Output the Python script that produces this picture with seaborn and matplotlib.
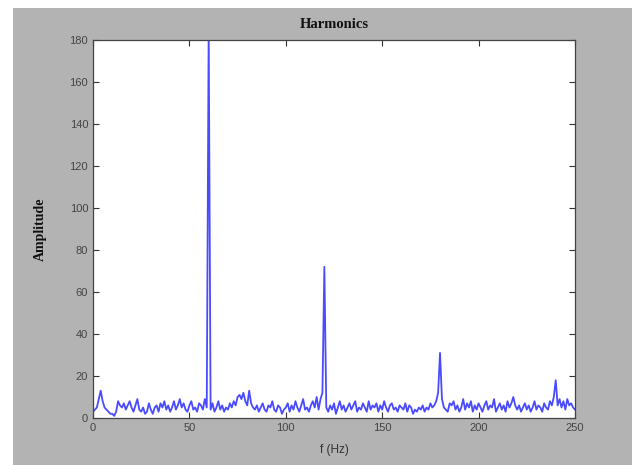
import matplotlib
matplotlib.use("Agg")
import matplotlib.pyplot as plt
import seaborn as sns
import numpy as np
from matplotlib.patches import Rectangle

freq = list(range(0, 251))
amplitude = [
    3, 4, 5, 9, 13, 8, 5, 4, 3, 2,
    2, 1, 3, 8, 6, 5, 7, 4, 6, 8,
    5, 3, 6, 9, 4, 3, 5, 2, 3, 7,
    4, 2, 5, 6, 3, 7, 5, 8, 4, 6,
    3, 5, 8, 4, 6, 9, 5, 7, 4, 3,
    6, 8, 4, 5, 3, 7, 6, 4, 9, 5,
    185, 4, 7, 3, 5, 8, 4, 6, 3, 5,
    4, 7, 5, 8, 6, 10, 11, 9, 12, 8,
    6, 13, 7, 5, 4, 6, 3, 5, 7, 4,
    3, 6, 5, 8, 4, 3, 6, 5, 2, 4,
    5, 7, 3, 6, 4, 8, 5, 3, 6, 9,
    4, 5, 3, 6, 8, 5, 10, 4, 9, 12,
    72, 5, 3, 6, 4, 7, 2, 5, 8, 4,
    6, 3, 5, 7, 4, 6, 8, 3, 5, 4,
    7, 5, 3, 8, 4, 6, 5, 7, 3, 6,
    4, 8, 5, 3, 6, 7, 4, 5, 3, 6,
    5, 4, 7, 3, 6, 5, 2, 4, 3, 5,
    4, 6, 3, 5, 4, 7, 5, 6, 8, 12,
    31, 9, 5, 4, 3, 7, 6, 8, 4, 6,
    3, 5, 9, 4, 7, 5, 8, 3, 6, 4,
    7, 5, 3, 6, 8, 4, 6, 5, 9, 3,
    5, 7, 4, 6, 3, 8, 5, 7, 10, 6,
    4, 6, 3, 5, 7, 4, 6, 3, 5, 8,
    4, 6, 5, 3, 7, 5, 4, 8, 6, 10,
    18, 6, 9, 5, 8, 4, 9, 6, 7, 5,
    4,
]
xticks = [0, 50, 100, 150, 200, 250]
yticks = list(range(0, 181, 20))

gray = "#b3b3b3"
fig = plt.figure(figsize=(6.32, 4.65), dpi=100, facecolor=gray)
fig.patches.append(Rectangle((0, 1 - 8 / 465), 1, 8 / 465, transform=fig.transFigure,
                             facecolor="white", edgecolor="none", zorder=0))
fig.patches.append(Rectangle((0, 0), 13 / 632, 1, transform=fig.transFigure,
                             facecolor="white", edgecolor="none", zorder=0))

ax = fig.add_axes([93 / 632, 47 / 465, (575 - 93) / 632, (418 - 40) / 465])
ax.set_facecolor("white")
sns.lineplot(x=freq, y=amplitude, ax=ax, color="#4a4aff", linewidth=1.3)

ax.set_xlim(0, 250)
ax.set_ylim(0, 180)
ax.set_xticks(xticks)
ax.set_yticks(yticks)
ax.tick_params(direction="in", top=True, right=True, length=4, width=0.8,
               colors="#333333", labelsize=8, labelcolor="#444444")
for lab in ax.get_xticklabels() + ax.get_yticklabels():
    lab.set_family("Liberation Sans")
for s in ax.spines.values():
    s.set_color("#444444")
    s.set_linewidth(0.9)

ax.set_title("Harmonics", family="Liberation Serif", fontweight="bold",
             fontsize=10.5, pad=9, color="#111111")
ax.set_ylabel("Amplitude", family="Liberation Serif", fontweight="bold",
              fontsize=10, labelpad=16, color="#111111")
ax.set_xlabel("f (Hz)", family="Liberation Sans", fontsize=8.5,
              labelpad=8, color="#333333")

fig.savefig("out.png", dpi=100, facecolor=gray)
